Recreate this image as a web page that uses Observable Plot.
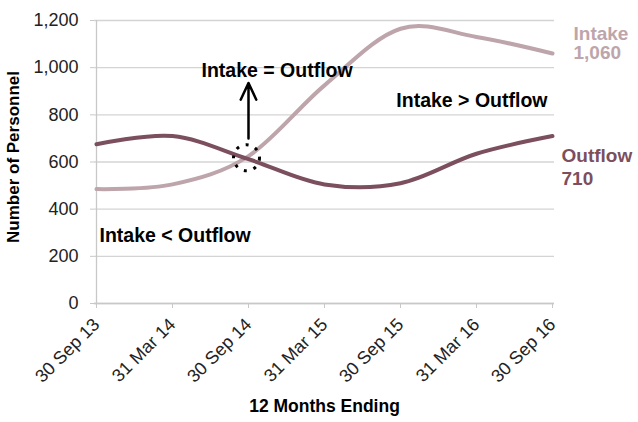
<!DOCTYPE html>
<html>
<head>
<meta charset="utf-8">
<script src="https://cdn.jsdelivr.net/npm/d3@7"></script>
<script src="https://cdn.jsdelivr.net/npm/@observablehq/plot@0.6"></script>
<style>
  html, body { margin: 0; padding: 0; background: #fff; }
  #chart svg { display: block; }
</style>
</head>
<body>
<div id="chart"></div>
<script>
const periods = ["30 Sep 13", "31 Mar 14", "30 Sep 14", "31 Mar 15", "30 Sep 15", "31 Mar 16", "30 Sep 16"];
const intake = [485, 505, 625, 925, 1165, 1130, 1060];
const outflow = [675, 710, 612, 505, 510, 635, 710];
const yTicks = [0, 200, 400, 600, 800, 1000, 1200];
const seriesNames = ["Intake", "Outflow"];
const crossing = { period: "30 Sep 14", value: 618 };

const colors = { Intake: "#bda5ab", Outflow: "#7b4f5e" };
const fmt = d3.format(",");

const rows = [];
seriesNames.forEach((s, i) => {
  const vals = i === 0 ? intake : outflow;
  periods.forEach((p, j) => rows.push({ series: s, period: p, value: vals[j] }));
});
const last = seriesNames.map((s, i) => ({
  series: s,
  period: periods[periods.length - 1],
  value: (i === 0 ? intake : outflow)[periods.length - 1]
}));

const font = "'Liberation Sans', Arial, sans-serif";

const chart = Plot.plot({
  width: 638,
  height: 422,
  marginLeft: 94,
  marginRight: 84,
  marginTop: 20,
  marginBottom: 119,
  style: { fontFamily: font, fontSize: "18px", color: "#222", background: "#fff", overflow: "visible" },
  x: { type: "point", domain: periods, padding: 0 },
  y: { domain: [0, 1200] },
  marks: [
    Plot.gridY(yTicks, { stroke: "#d4d4d4", strokeOpacity: 1, strokeWidth: 1.3 }),
    Plot.ruleX([periods[0]], { stroke: "#c8c8c8", strokeWidth: 1.3 }),
    Plot.ruleY([0], { stroke: "#c8c8c8", strokeWidth: 1.3 }),
    Plot.axisY({ ticks: yTicks, tickFormat: fmt, tickSize: 4, tickPadding: 12, stroke: "#c8c8c8", label: null, fontSize: 18 }),
    Plot.axisX({ tickRotate: -45, tickSize: 5, tickPadding: 13, stroke: "#c8c8c8", label: null, fontSize: 18 }),
    Plot.line(rows, {
      x: "period", y: "value", z: "series",
      stroke: d => colors[d.series],
      strokeWidth: 4, curve: "cardinal"
    }),
    Plot.dot([crossing], {
      x: "period", y: "value", r: 13, dx: -2,
      stroke: "#000", strokeWidth: 3, strokeDasharray: "3,7", fill: "none"
    }),
    Plot.arrow([crossing], {
      x1: "period", x2: "period", y1: 700, y2: 935,
      stroke: "#000", strokeWidth: 2.5, headLength: 14, headAngle: 50
    }),
    Plot.text([{ period: "30 Sep 14", value: 985, t: "Intake = Outflow" }], {
      x: "period", y: "value", text: "t", textAnchor: "start", dx: -47,
      fontWeight: "bold", fontSize: 19.5, fill: "#000"
    }),
    Plot.text([{ period: "30 Sep 16", value: 858, t: "Intake > Outflow" }], {
      x: "period", y: "value", text: "t", textAnchor: "end", dx: -5,
      fontWeight: "bold", fontSize: 19.5, fill: "#000"
    }),
    Plot.text([{ period: "30 Sep 13", value: 289, t: "Intake < Outflow" }], {
      x: "period", y: "value", text: "t", textAnchor: "start", dx: 3,
      fontWeight: "bold", fontSize: 19.5, fill: "#000"
    }),
    Plot.text(last.filter(d => d.series === "Intake"), {
      x: "period", y: "value", text: d => `${d.series}\n${fmt(d.value)}`,
      textAnchor: "start", dx: 21, dy: -10, lineHeight: 1.0,
      fontWeight: "bold", fontSize: 19, fill: colors.Intake
    }),
    Plot.text(last.filter(d => d.series === "Outflow"), {
      x: "period", y: "value", text: d => `${d.series}\n${fmt(d.value)}`,
      textAnchor: "start", dx: 9, dy: 30, lineHeight: 1.21,
      fontWeight: "bold", fontSize: 19, fill: colors.Outflow
    }),
    Plot.text(["Number of Personnel"], {
      frameAnchor: "left", textAnchor: "middle", dx: -81, dy: -5, rotate: -90,
      fontWeight: "bold", fontSize: 17, fill: "#000"
    }),
    Plot.text(["12 Months Ending"], {
      frameAnchor: "bottom", dy: 108,
      fontWeight: "bold", fontSize: 17.5, fill: "#000"
    })
  ]
});

document.getElementById("chart").appendChild(chart);
</script>
</body>
</html>
